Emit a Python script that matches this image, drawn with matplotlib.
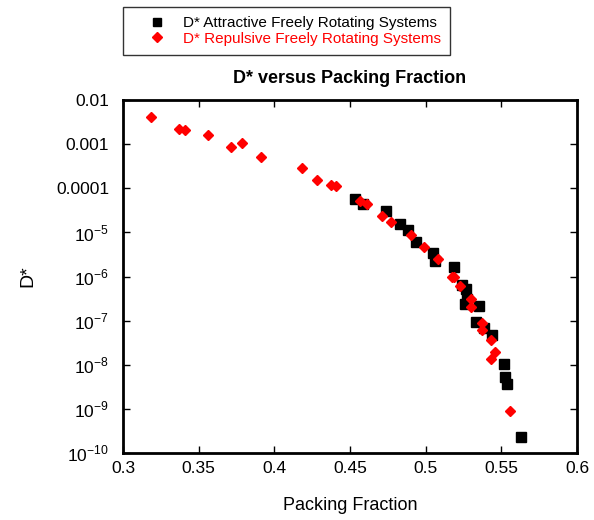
import matplotlib
matplotlib.use("Agg")
import matplotlib.pyplot as plt
from matplotlib.ticker import FixedLocator, FixedFormatter, NullLocator

plt.rcParams.update({
    "font.family": ["Liberation Sans", "DejaVu Sans"],
    "mathtext.fontset": "custom",
    "mathtext.rm": "Liberation Sans",
})

# attractive systems (black squares)
attr_phi = [0.4531, 0.4586, 0.4735, 0.4833, 0.4884, 0.4939, 0.5046, 0.5059,
            0.5184, 0.5239, 0.5265, 0.5272, 0.5261, 0.5355, 0.5334, 0.5386,
            0.5441, 0.5515, 0.5524, 0.5539, 0.5630]
attr_logd = [-4.24, -4.36, -4.51, -4.81, -4.95, -5.21, -5.47, -5.65,
             -5.79, -6.19, -6.29, -6.51, -6.62, -6.66, -7.02, -7.17,
             -7.32, -7.98, -8.27, -8.44, -9.63]

# repulsive systems (red diamonds)
rep_phi = [0.3186, 0.3370, 0.3412, 0.3561, 0.3712, 0.3788, 0.3914, 0.4186,
           0.4280, 0.4375, 0.4408, 0.4564, 0.4614, 0.4712, 0.4772, 0.4906,
           0.4987, 0.5081, 0.5173, 0.5184, 0.5228, 0.5298, 0.5298, 0.5373,
           0.5373, 0.5430, 0.5459, 0.5430, 0.5557]
rep_logd = [-2.39, -2.66, -2.69, -2.79, -3.06, -2.97, -3.29, -3.55,
            -3.81, -3.93, -3.96, -4.30, -4.36, -4.62, -4.77, -5.07,
            -5.34, -5.61, -6.00, -6.02, -6.21, -6.51, -6.70, -7.06,
            -7.21, -7.44, -7.71, -7.87, -9.04]

y_ticks = [1e-2, 1e-3, 1e-4, 1e-5, 1e-6, 1e-7, 1e-8, 1e-9, 1e-10]
y_labels = ["0.01", "0.001", "0.0001", "$10^{-5}$", "$10^{-6}$", "$10^{-7}$",
            "$10^{-8}$", "$10^{-9}$", "$10^{-10}$"]
x_ticks = [0.3, 0.35, 0.4, 0.45, 0.5, 0.55, 0.6]
x_labels = ["0.3", "0.35", "0.4", "0.45", "0.5", "0.55", "0.6"]

W, H = 594, 520
fig = plt.figure(figsize=(W / 100, H / 100), dpi=100)
ax = fig.add_axes([123 / W, 1 - 453 / H, (577 - 123) / W, (453 - 100) / H])

ax.plot(attr_phi, [10 ** v for v in attr_logd], "s", color="black",
        markersize=7, linestyle="none", label="D* Attractive Freely Rotating Systems")
ax.plot(rep_phi, [10 ** v for v in rep_logd], "D", color="red",
        markersize=5.5, linestyle="none", label="D* Repulsive Freely Rotating Systems")

ax.set_yscale("log")
ax.set_xlim(0.3, 0.6)
ax.set_ylim(1e-10, 1e-2)
ax.yaxis.set_major_locator(FixedLocator(y_ticks))
ax.yaxis.set_major_formatter(FixedFormatter(y_labels))
ax.yaxis.set_minor_locator(NullLocator())
ax.xaxis.set_major_locator(FixedLocator(x_ticks))
ax.xaxis.set_major_formatter(FixedFormatter(x_labels))

ax.tick_params(direction="in", length=5, width=1, top=True, right=True,
               labelsize=12.5)
ax.tick_params(axis="x", pad=6)
ax.tick_params(axis="y", pad=10)
for s in ax.spines.values():
    s.set_linewidth(2)

ax.set_xlabel("Packing Fraction", fontsize=13, labelpad=15)
ax.set_ylabel("D*", fontsize=14, labelpad=14)
ax.set_title("D* versus Packing Fraction", fontsize=13, fontweight="bold", pad=12)

leg = fig.legend(loc="upper left", bbox_to_anchor=(123 / W, 1 - 7 / H),
                 fontsize=11, frameon=True, fancybox=False, borderpad=0.6,
                 handlelength=3.2, handletextpad=0.1, labelspacing=0.1,
                 markerscale=0.85, borderaxespad=0)
leg.get_frame().set_edgecolor("black")
leg.get_frame().set_linewidth(1)
leg.get_texts()[1].set_color("red")

fig.savefig("out.png", dpi=100)
